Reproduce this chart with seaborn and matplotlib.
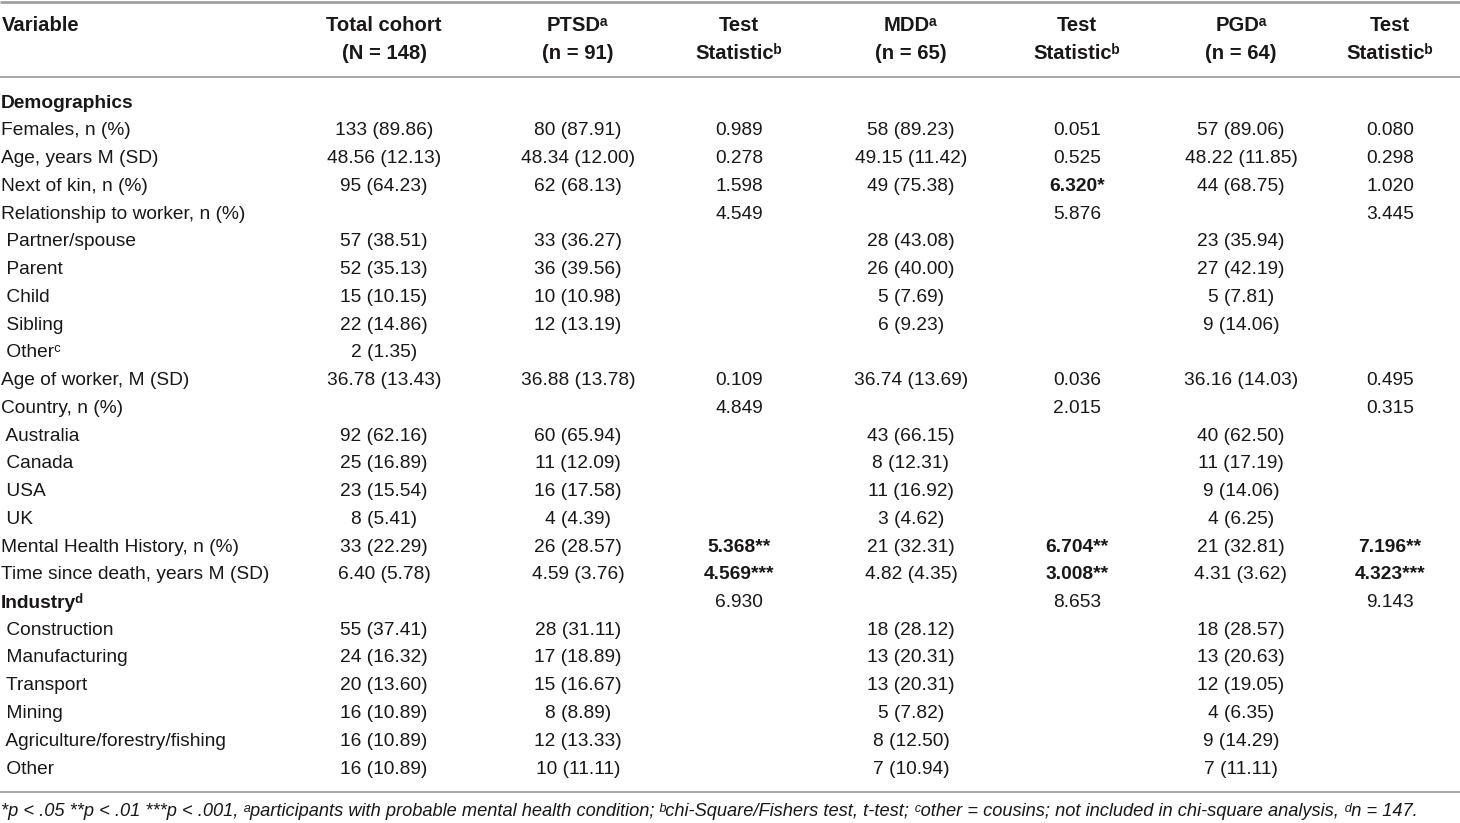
import matplotlib
matplotlib.use("Agg")
import matplotlib.pyplot as plt
import seaborn as sns

sns.set_theme(style="white")
plt.rcParams['font.family'] = ['Liberation Sans', 'DejaVu Sans']

headers = [("Variable", ""), ("Total cohort", "(N = 148)"), ("PTSDᵃ", "(n = 91)"),
           ("Test", "Statisticᵇ"), ("MDDᵃ", "(n = 65)"), ("Test", "Statisticᵇ"),
           ("PGDᵃ", "(n = 64)"), ("Test", "Statisticᵇ")]

variables = ["Demographics", "Females, n (%)", "Age, years M (SD)", "Next of kin, n (%)",
             "Relationship to worker, n (%)", " Partner/spouse", " Parent", " Child", " Sibling",
             " Otherᶜ", "Age of worker, M (SD)", "Country, n (%)", " Australia", " Canada", " USA",
             " UK", "Mental Health History, n (%)", "Time since death, years M (SD)", "Industryᵈ",
             " Construction", " Manufacturing", " Transport", " Mining",
             " Agriculture/forestry/fishing", " Other"]
section_rows = ["Demographics", "Industryᵈ"]

total = ["", "133 (89.86)", "48.56 (12.13)", "95 (64.23)", "", "57 (38.51)", "52 (35.13)",
         "15 (10.15)", "22 (14.86)", "2 (1.35)", "36.78 (13.43)", "", "92 (62.16)", "25 (16.89)",
         "23 (15.54)", "8 (5.41)", "33 (22.29)", "6.40 (5.78)", "", "55 (37.41)", "24 (16.32)",
         "20 (13.60)", "16 (10.89)", "16 (10.89)", "16 (10.89)"]
ptsd = ["", "80 (87.91)", "48.34 (12.00)", "62 (68.13)", "", "33 (36.27)", "36 (39.56)",
        "10 (10.98)", "12 (13.19)", "", "36.88 (13.78)", "", "60 (65.94)", "11 (12.09)",
        "16 (17.58)", "4 (4.39)", "26 (28.57)", "4.59 (3.76)", "", "28 (31.11)", "17 (18.89)",
        "15 (16.67)", "8 (8.89)", "12 (13.33)", "10 (11.11)"]
ptsd_test = ["", "0.989", "0.278", "1.598", "4.549", "", "", "", "", "", "0.109", "4.849",
             "", "", "", "", "5.368**", "4.569***", "6.930", "", "", "", "", "", ""]
mdd = ["", "58 (89.23)", "49.15 (11.42)", "49 (75.38)", "", "28 (43.08)", "26 (40.00)",
       "5 (7.69)", "6 (9.23)", "", "36.74 (13.69)", "", "43 (66.15)", "8 (12.31)",
       "11 (16.92)", "3 (4.62)", "21 (32.31)", "4.82 (4.35)", "", "18 (28.12)", "13 (20.31)",
       "13 (20.31)", "5 (7.82)", "8 (12.50)", "7 (10.94)"]
mdd_test = ["", "0.051", "0.525", "6.320*", "5.876", "", "", "", "", "", "0.036", "2.015",
            "", "", "", "", "6.704**", "3.008**", "8.653", "", "", "", "", "", ""]
pgd = ["", "57 (89.06)", "48.22 (11.85)", "44 (68.75)", "", "23 (35.94)", "27 (42.19)",
       "5 (7.81)", "9 (14.06)", "", "36.16 (14.03)", "", "40 (62.50)", "11 (17.19)",
       "9 (14.06)", "4 (6.25)", "21 (32.81)", "4.31 (3.62)", "", "18 (28.57)", "13 (20.63)",
       "12 (19.05)", "4 (6.35)", "9 (14.29)", "7 (11.11)"]
pgd_test = ["", "0.080", "0.298", "1.020", "3.445", "", "", "", "", "", "0.495", "0.315",
            "", "", "", "", "7.196**", "4.323***", "9.143", "", "", "", "", "", ""]

footnote = ("*p < .05 **p < .01 ***p < .001, ᵃparticipants with probable mental health condition; "
            "ᵇchi-Square/Fishers test, t-test; ᶜother = cousins; not included in chi-square analysis, ᵈn = 147.")

columns = [total, ptsd, ptsd_test, mdd, mdd_test, pgd, pgd_test]
col_x = [384, 578, 739, 911, 1077, 1241, 1390]

W, H = 1460, 823
fig = plt.figure(figsize=(W / 100, H / 100), dpi=100)
ax = fig.add_axes([0, 0, 1, 1])
ax.set_xlim(0, W)
ax.set_ylim(H, 0)
ax.axis("off")

fs = 13.8
hfs = 14.6
tc = "#1a1718"
line_c = "#a0a0a0"

# rules
for y, lw in [(2, 2.0), (77, 1.3), (792, 1.3)]:
    ax.plot([0, W], [y, y], color=line_c, lw=lw, solid_capstyle="butt")

# header
ax.text(2, 25, headers[0][0], ha="left", va="center", fontsize=hfs, fontweight="bold", color=tc)
for (l1, l2), x in zip(headers[1:], col_x):
    ax.text(x, 25, l1, ha="center", va="center", fontsize=hfs, fontweight="bold", color=tc)
    ax.text(x, 53, l2, ha="center", va="center", fontsize=hfs, fontweight="bold", color=tc)

y0, dy = 103, 27.75
for i, v in enumerate(variables):
    y = y0 + i * dy
    bold = v in section_rows
    ax.text(1, y, v, ha="left", va="center", fontsize=fs, color=tc,
            fontweight="bold" if bold else "normal")
    for col, x in zip(columns, col_x):
        s = col[i]
        if s:
            ax.text(x, y, s, ha="center", va="center", fontsize=fs, color=tc,
                    fontweight="bold" if "*" in s else "normal")

ax.text(1, 811, footnote, ha="left", va="center", fontsize=13.15, style="italic", color=tc)

fig.savefig("out.png", dpi=100)
